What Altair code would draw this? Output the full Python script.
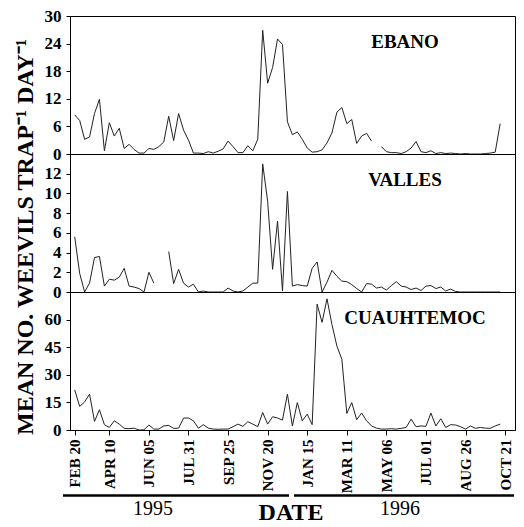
import altair as alt
import pandas as pd

# weekly samples, first one on 20 Feb 1995
first_sample = "1995-02-20"
n_samples = 87

ebano = [8.5, 7.3, 3.2, 3.7, 8.8, 11.9, 0.7, 6.8, 3.9, 5.6,
         1.2, 2.1, 1.0, 0.2, 0.2, 1.2, 1.0, 1.6, 2.6, 8.2,
         2.9, 8.8, 5.2, 3.0, 0.2, 0.2, 0.1, 0.5, 0.2, 0.6,
         1.1, 2.8, 1.6, 0.3, 0.3, 1.8, 0.7, 3.2, 26.9, 15.4,
         18.8, 25.0, 23.8, 7.0, 4.2, 4.8, 3.2, 1.3, 0.4, 0.5,
         0.9, 2.4, 4.6, 9.1, 10.1, 6.6, 7.5, 2.3, 3.9, 4.5,
         2.8, None, 1.6, 0.5, 0.3, 0.3, 0.1, 0.5, 1.3, 2.7,
         0.5, 0.3, 0.7, 0.1, 0.3, 0.1, 0.2, 0.1, 0.0, 0.1,
         0.0, 0.0, 0.0, 0.1, 0.2, 0.4, 6.6]

valles = [5.6, 1.9, 0.0, 0.9, 3.5, 3.6, 0.6, 1.3, 1.2, 1.5,
          2.4, 0.6, 0.5, 0.35, 0.0, 2.0, 0.9, None, None, 4.1,
          0.85, 2.3, 0.9, 0.5, 0.8, 0.0, 0.1, 0.0, 0.0, 0.0,
          0.0, 0.4, 0.1, 0.0, 0.1, 0.5, 0.9, 0.9, 13.0, 9.2,
          2.3, 7.2, 0.1, 10.2, 0.6, 0.75, 0.65, 0.6, 2.4, 3.05,
          0.0, 1.0, 2.2, 1.6, 1.1, 1.05, 0.75, 0.35, 0.0, 0.85,
          0.8, 0.4, 0.5, 0.2, 0.65, 1.05, 0.6, 0.5, 0.25, 0.4,
          0.15, 0.6, 0.65, 0.35, 0.5, 0.1, 0.3, 0.05, 0.0, 0.0,
          0.0, 0.0, 0.0, 0.0, 0.0, 0.0, 0.0]

cuauhtemoc = [21.8, 12.8, 15.3, 19.5, 4.7, 11.0, 2.9, 1.4, 5.0, 3.2,
              0.9, 0.7, 1.0, 0.0, 0.1, 2.7, 0.5, 0.5, 2.2, 2.5,
              0.9, 1.0, 6.5, 6.5, 5.0, 1.0, 2.9, 1.0, 0.5, 0.4,
              0.5, 0.5, 1.8, 3.2, 2.0, 4.5, 3.2, 1.8, 9.5, 3.2,
              7.2, 6.5, 5.4, 19.5, 2.2, 14.9, 5.0, 8.6, 2.9, 68.4,
              58.5, 71.3, 57.3, 45.6, 38.4, 9.0, 14.9, 5.6, 9.2, 5.0,
              2.2, 1.0, 0.5, 0.5, 0.7, 0.5, 0.9, 1.4, 5.9, 1.8,
              2.2, 2.0, 9.2, 2.2, 6.1, 1.4, 2.9, 2.7, 1.8, 0.5,
              2.2, 0.9, 1.4, 1.0, 0.9, 2.2, 3.2]

tick_dates = ["1995-02-20", "1995-04-10", "1995-06-05", "1995-07-31",
              "1995-09-25", "1995-11-20", "1996-01-15", "1996-03-11",
              "1996-05-06", "1996-07-01", "1996-08-26", "1996-10-21"]

ebano_ticks = [0, 6, 12, 18, 24, 30]
valles_ticks = [0, 2, 4, 6, 8, 10, 12]
cuau_ticks = [0, 15, 30, 45, 60]

dates = [d.strftime("%Y-%m-%d") for d in pd.date_range(first_sample, periods=n_samples, freq="7D")]

FONT = "Liberation Serif"
W, H = 445, 138

def dt(s, hours=0):
    y, m, d = (int(p) for p in s.split("-"))
    return alt.DateTime(year=y, month=m, date=d, hours=hours, utc=True)

x_scale = alt.Scale(type="utc", domain=[dt("1995-02-13", 8), dt("1996-11-04")], nice=False)

def one_row():
    return pd.DataFrame({"k": [0]})

def panel(values, ydom, yticks, name, name_x, show_x):
    df = pd.DataFrame({"date": dates, "value": values})
    if show_x:
        xaxis = alt.Axis(values=[dt(s) for s in tick_dates],
                         labelExpr="upper(utcFormat(datum.value, '%b %d'))",
                         labelAngle=270, labelFont=FONT, labelFontWeight="bold",
                         labelFontSize=15, labelColor="black", labelPadding=4,
                         labelFlush=False, labelOverlap=False, labelBound=False,
                         tickSize=5, tickColor="black", domainColor="black",
                         grid=False, title=None)
    else:
        xaxis = None
    line = alt.Chart(df).mark_line(color="#222", strokeWidth=1,
                                   invalid="break-paths-show-domains").encode(
        x=alt.X("date:T", scale=x_scale, axis=xaxis),
        y=alt.Y("value:Q", scale=alt.Scale(domain=ydom, nice=False, zero=True),
                axis=alt.Axis(values=yticks, title=None, grid=False,
                              labelFont=FONT, labelFontWeight="bold", labelFontSize=17,
                              labelColor="black", labelPadding=5, tickSize=4,
                              tickColor="black", domainColor="black",
                              labelOverlap=False, labelBound=False, labelFlush=False)),
    )
    lab = alt.Chart(one_row()).mark_text(font=FONT, fontWeight="bold", fontSize=19,
                                         color="black", align="center",
                                         baseline="middle").encode(
        x=alt.value(name_x), y=alt.value(26), text=alt.value(name))
    return [line, lab]

top = alt.layer(*panel(ebano, [0, 30], ebano_ticks, "EBANO", 335, False)).properties(width=W, height=H)

mid_layers = panel(valles, [0, 14], valles_ticks, "VALLES", 335, False)
ytitle = alt.Chart(one_row()).mark_text(font=FONT, fontWeight="bold", fontSize=24,
                                        color="black", angle=270, align="center",
                                        baseline="middle").encode(
    x=alt.value(-44), y=alt.value(83),
    text=alt.value("MEAN NO. WEEVILS TRAP\u207b\u00b9 DAY\u207b\u00b9"))
mid = alt.layer(*mid_layers, ytitle).properties(width=W, height=H)

bot_layers = panel(cuauhtemoc, [0, 75], cuau_ticks, "CUAUHTEMOC", 345, True)
rule95 = alt.Chart(one_row()).mark_rule(color="black", strokeWidth=2.5).encode(
    x=alt.value(-7), x2=alt.value(219), y=alt.value(203.5))
rule96 = alt.Chart(one_row()).mark_rule(color="black", strokeWidth=2.5).encode(
    x=alt.value(224), x2=alt.value(444), y=alt.value(203.5))
def txt(s, x, y, size):
    return alt.Chart(one_row()).mark_text(font=FONT, fontWeight="bold" if s == "DATE" else "normal",
                                          fontSize=size, color="black",
                                          align="center", baseline="middle").encode(
        x=alt.value(x), y=alt.value(y), text=alt.value(s))
bot = alt.layer(*bot_layers, rule95, rule96,
                txt("1995", 83, 217, 20), txt("1996", 330, 217, 20),
                txt("DATE", 221, 221, 24)).properties(width=W, height=H)

chart = alt.vconcat(top, mid, bot, spacing=0, bounds="flush").properties(
    padding={"left": 5, "top": -2, "right": 0, "bottom": 0}
).configure_view(stroke="black", strokeWidth=1)

chart.save("out.html", embed_options={"renderer": "svg", "actions": False})
